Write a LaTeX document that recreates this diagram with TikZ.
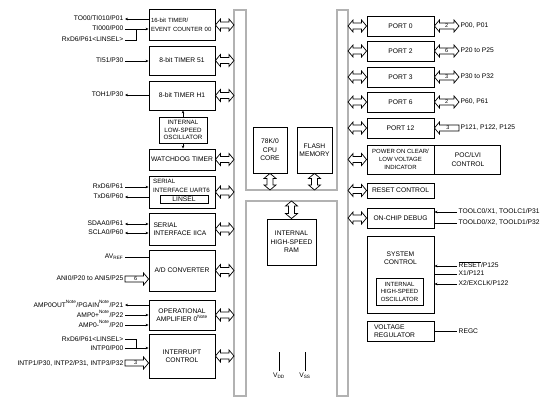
\documentclass[tikz,border=0pt]{standalone}
\usepackage{fontspec}
\setmainfont{Liberation Sans}
\usetikzlibrary{arrows.meta,calc}

% superscript note mark
\newcommand{\notesup}{\textsuperscript{Note}}
% hollow double bus arrow, #2 left of #3, optional width number
\newcommand{\hbusarrow}[3][]{%
  \draw[busarrow] let \p1=(#2), \p2=(#3) in
    (\x1,\y1) -- (\x1+5pt,\y1+6pt) -- (\x1+5pt,\y1+3pt) -- (\x2-5pt,\y1+3pt)
    -- (\x2-5pt,\y1+6pt) -- (\x2,\y1) -- (\x2-5pt,\y1-6pt) -- (\x2-5pt,\y1-3pt)
    -- (\x1+5pt,\y1-3pt) -- (\x1+5pt,\y1-6pt) -- cycle;
  \node[busnum] at ($(#2)!0.5!(#3)$) {#1};}
% hollow double bus arrow, #1 above #2
\newcommand{\vbusarrow}[2]{%
  \draw[busarrow] let \p1=(#1), \p2=(#2) in
    (\x1,\y1) -- (\x1+6pt,\y1-5pt) -- (\x1+3pt,\y1-5pt) -- (\x1+3pt,\y2+5pt)
    -- (\x1+6pt,\y2+5pt) -- (\x1,\y2) -- (\x1-6pt,\y2+5pt) -- (\x1-3pt,\y2+5pt)
    -- (\x1-3pt,\y1-5pt) -- (\x1-6pt,\y1-5pt) -- cycle;}
% hollow input arrow, head on the right at #2
\newcommand{\rinarrow}[3]{%
  \draw[busarrow] let \p1=(#1), \p2=(#2) in
    (\x1,\y1+3pt) -- (\x2-5pt,\y1+3pt) -- (\x2-5pt,\y1+6pt) -- (\x2,\y1)
    -- (\x2-5pt,\y1-6pt) -- (\x2-5pt,\y1-3pt) -- (\x1,\y1-3pt) -- cycle;
  \node[busnum] at ($(#1)!0.45!(#2)$) {#3};}
% hollow input arrow, head on the left at #1
\newcommand{\linarrow}[3]{%
  \draw[busarrow] let \p1=(#1), \p2=(#2) in
    (\x1,\y1) -- (\x1+5pt,\y1+6pt) -- (\x1+5pt,\y1+3pt) -- (\x2,\y1+3pt)
    -- (\x2,\y1-3pt) -- (\x1+5pt,\y1-3pt) -- (\x1+5pt,\y1-6pt) -- cycle;
  \node[busnum] at ($(#1)!0.55!(#2)$) {#3};}

\begin{document}
\begin{tikzpicture}[x=1pt, y=-1pt,
    font=\fontsize{6.7}{8.5}\selectfont,
    >={Stealth[length=3pt,width=2.6pt]},
    blk/.style={draw, line width=0.9pt, inner sep=1pt, align=center},
    pinlbl/.style={inner sep=1.5pt, text height=4.8pt, text depth=0.8pt},
    sig/.style={line width=0.7pt},
    busarrow/.style={draw, line width=0.7pt, fill=white},
    busnum/.style={font=\fontsize{5.5}{6}\selectfont, inner sep=0pt},
    busframe/.style={draw=gray!60, line width=1.2pt}]
  \useasboundingbox (0,0) rectangle (554,403);

  % internal bus
  \draw[busframe] (234,10) -- (246,10) -- (246,190) -- (337,190) -- (337,10)
    -- (348,10) -- (348,396) -- (337,396) -- (337,201) -- (246,201)
    -- (246,396) -- (234,396) -- cycle;
  \coordinate (busL) at (234,0);
  \coordinate (busR) at (348,0);
  \coordinate (midT) at (0,190);
  \coordinate (midB) at (0,201);

  % timers
  \node[blk, minimum width=66pt, minimum height=31pt, text width=62pt, align=left,
    font=\fontsize{6}{9.5}\selectfont] (tm00) at (182,25) {16-bit TIMER/\\EVENT COUNTER 00};
  \node[blk, minimum width=66pt, minimum height=29pt] (tm51) at (182,60.5) {8-bit TIMER 51};
  \node[blk, minimum width=66pt, minimum height=29pt] (tmh1) at (182,95.5) {8-bit TIMER H1};
  \node[blk, minimum width=48pt, minimum height=26pt, font=\fontsize{6.2}{7.5}\selectfont]
    (losc) at (183,130) {INTERNAL\\LOW-SPEED\\OSCILLATOR};
  \node[blk, minimum width=66pt, minimum height=21pt] (wdt) at (182,159.5) {WATCHDOG TIMER};
  % serial interfaces
  \node[blk, minimum width=66pt, minimum height=32pt] (uart) at (182,192) {};
  \node[anchor=north west, inner sep=0pt, align=left, font=\fontsize{6.2}{8.5}\selectfont]
    (uarttxt) at (153,179) {SERIAL\\INTERFACE UART6};
  \node[blk, line width=0.7pt, minimum width=48pt, minimum height=8pt, inner sep=0pt] (linsel) at (184,199) {LINSEL};
  \node[blk, minimum width=66pt, minimum height=32pt, text width=57pt, align=left] (iica) at (182,229) {SERIAL\\INTERFACE IICA};
  % analog and interrupts
  \node[blk, minimum width=66pt, minimum height=41pt] (adc) at (182,270.5) {A/D CONVERTER};
  \node[blk, minimum width=66pt, minimum height=30pt] (opamp) at (182,315) {OPERATIONAL\\AMPLIFIER 0\notesup};
  \node[blk, minimum width=66pt, minimum height=44pt] (intc) at (182,356) {INTERRUPT\\CONTROL};

  % left pins
  \node[pinlbl, anchor=east] (to00) at (125,19) {TO00/TI010/P01};
  \node[pinlbl, anchor=east] (ti000) at (125,29) {TI000/P00};
  \node[pinlbl, anchor=east] (rxdA) at (125,40) {RxD6/P61<LINSEL>};
  \node[pinlbl, anchor=east] (ti51) at (125,61) {TI51/P30};
  \node[pinlbl, anchor=east] (toh1) at (125,95) {TOH1/P30};
  \node[pinlbl, anchor=east] (rxd6) at (125,187) {RxD6/P61};
  \node[pinlbl, anchor=east] (txd6) at (125,197) {TxD6/P60};
  \node[pinlbl, anchor=east] (sdaa0) at (125,224) {SDAA0/P61};
  \node[pinlbl, anchor=east] (scla0) at (125,233) {SCLA0/P60};
  \node[pinlbl, anchor=east] (avref) at (125,257) {AV\textsubscript{REF}};
  \node[pinlbl, anchor=east] (ani) at (125,279) {ANI0/P20 to ANI5/P25};
  \node[pinlbl, anchor=east] (ampout) at (125,305) {AMP0OUT\notesup/PGAIN\notesup/P21};
  \node[pinlbl, anchor=east] (ampp) at (125,315) {AMP0+\notesup/P22};
  \node[pinlbl, anchor=east] (ampm) at (125,325) {AMP0-\notesup/P20};
  \node[pinlbl, anchor=east] (rxdB) at (125,339) {RxD6/P61<LINSEL>};
  \node[pinlbl, anchor=east] (intp0) at (125,348) {INTP0/P00};
  \node[pinlbl, anchor=east] (intp) at (125,363) {INTP1/P30, INTP2/P31, INTP3/P32};

  % left pin lines
  \draw[sig,<-] (to00.east) -- (to00.east -| tm00.west);
  \draw[sig,->] (ti000.east) -- (ti000.east -| tm00.west);
  \draw[sig] (rxdA.east) -| ($(ti000.east)!0.5!(ti000.east -| tm00.west)$);
  \draw[sig,->] (ti51.east) -- (ti51.east -| tm51.west);
  \draw[sig,<-] (toh1.east) -- (toh1.east -| tmh1.west);
  \draw[sig,->] (losc.north) -- (losc.north |- tmh1.south);
  \draw[sig,->] (losc.south) -- (losc.south |- wdt.north);
  \draw[sig,->] (rxd6.east) -- (rxd6.east -| uart.west);
  \draw[sig,<-] (txd6.east) -- (txd6.east -| uart.west);
  \draw[sig,<->] (sdaa0.east) -- (sdaa0.east -| iica.west);
  \draw[sig,<->] (scla0.east) -- (scla0.east -| iica.west);
  \draw[sig] (avref.east) -- (avref.east -| adc.west);
  \rinarrow{ani.east}{ani.east -| adc.west}{6}
  \draw[sig,<-] (ampout.east) -- (ampout.east -| opamp.west);
  \draw[sig,->] (ampp.east) -- (ampp.east -| opamp.west);
  \draw[sig,->] (ampm.east) -- (ampm.east -| opamp.west);
  \draw[sig] (rxdB.east) -| ($(intp0.east)!0.5!(intp0.east -| intc.west)$);
  \draw[sig,->] (intp0.east) -- (intp0.east -| intc.west);
  \rinarrow{intp.east}{intp.east -| intc.west}{3}

  % left bus arrows
  \hbusarrow{tm00.east}{tm00.east -| busL}
  \hbusarrow{tm51.east}{tm51.east -| busL}
  \hbusarrow{tmh1.east}{tmh1.east -| busL}
  \hbusarrow{wdt.east}{wdt.east -| busL}
  \hbusarrow{uart.east}{uart.east -| busL}
  \hbusarrow{iica.east}{iica.east -| busL}
  \hbusarrow{adc.east}{adc.east -| busL}
  \hbusarrow{opamp.east}{opamp.east -| busL}
  \hbusarrow{intc.east}{intc.east -| busL}

  % core, memories
  \node[blk, minimum width=34pt, minimum height=46pt] (cpu) at (270,150) {78K/0\\CPU\\CORE};
  \node[blk, minimum width=35pt, minimum height=46pt] (flash) at (314.5,150) {FLASH\\MEMORY};
  \node[blk, minimum width=49pt, minimum height=46pt] (ram) at (291.5,242) {INTERNAL\\HIGH-SPEED\\RAM};
  \vbusarrow{cpu.south}{cpu.south |- midT}
  \vbusarrow{flash.south}{flash.south |- midT}
  \vbusarrow{ram.north |- midB}{ram.north}

  % supply
  \coordinate (pwr) at (0,352);
  \node[pinlbl, anchor=north] (vdd) at (279,371) {V\textsubscript{DD}};
  \node[pinlbl, anchor=north] (vss) at (305,371) {V\textsubscript{SS}};
  \draw[sig] (vdd.north) -- (vdd.north |- pwr);
  \draw[sig] (vss.north) -- (vss.north |- pwr);

  % ports
  \node[blk, minimum width=67pt, minimum height=20pt] (port0) at (400.5,26) {PORT 0};
  \node[blk, minimum width=67pt, minimum height=20pt] (port2) at (400.5,51) {PORT 2};
  \node[blk, minimum width=67pt, minimum height=20pt] (port3) at (400.5,77) {PORT 3};
  \node[blk, minimum width=67pt, minimum height=20pt] (port6) at (400.5,102) {PORT 6};
  \node[blk, minimum width=67pt, minimum height=20pt] (port12) at (400.5,128) {PORT 12};
  \node[pinlbl, anchor=west] (p0) at (459,26) {P00, P01};
  \node[pinlbl, anchor=west] (p2) at (459,51) {P20 to P25};
  \node[pinlbl, anchor=west] (p3) at (459,77) {P30 to P32};
  \node[pinlbl, anchor=west] (p6) at (459,102) {P60, P61};
  \node[pinlbl, anchor=west] (p12) at (459,128) {P121, P122, P125};
  \hbusarrow[2]{port0.east}{p0.west}
  \hbusarrow[6]{port2.east}{p2.west}
  \hbusarrow[3]{port3.east}{p3.west}
  \hbusarrow[2]{port6.east}{p6.west}
  \linarrow{port12.east}{p12.west}{3}

  % power on clear, reset, debug
  \node[blk, minimum width=67pt, minimum height=29pt, font=\fontsize{6}{8.3}\selectfont]
    (poc) at (400.5,159.5) {POWER ON CLEAR/\\LOW VOLTAGE\\INDICATOR};
  \node[blk, minimum width=66pt, minimum height=29pt, anchor=west] (lvi) at (poc.east) {POC/LVI\\CONTROL};
  \node[blk, minimum width=67pt, minimum height=15pt] (rst) at (400.5,190.5) {RESET CONTROL};
  \node[blk, minimum width=67pt, minimum height=20pt] (ocd) at (400.5,218) {ON-CHIP DEBUG};
  \node[pinlbl, anchor=west] (toolc) at (457,212) {TOOLC0/X1, TOOLC1/P31};
  \node[pinlbl, anchor=west] (toold) at (457,223) {TOOLD0/X2, TOOLD1/P32};
  \draw[sig,->] (toolc.west) -- (toolc.west -| ocd.east);
  \draw[sig] (toold.west) -- (toold.west -| ocd.east);

  % system control
  \node[blk, minimum width=67pt, minimum height=77pt] (sysc) at (400.5,274.5) {};
  \node[align=center, inner sep=0pt] (systxt) at (400.5,258) {SYSTEM\\CONTROL};
  \node[blk, line width=0.7pt, minimum width=47pt, minimum height=27pt, font=\fontsize{6}{7.5}\selectfont]
    (hosc) at (399.5,291.5) {INTERNAL\\HIGH-SPEED\\OSCILLATOR};
  \node[pinlbl, anchor=west] (reset) at (457,266) {$\overline{\mbox{RESET}}$/P125};
  \node[pinlbl, anchor=west] (x1) at (457,274) {X1/P121};
  \node[pinlbl, anchor=west] (x2) at (457,284) {X2/EXCLK/P122};
  \draw[sig,->] (reset.west) -- (reset.west -| sysc.east);
  \draw[sig] (x1.west) -- (x1.west -| sysc.east);
  \draw[sig,->] (x2.west) -- (x2.west -| sysc.east);

  % voltage regulator
  \node[blk, minimum width=67pt, minimum height=20pt, text width=53pt, align=left] (vreg) at (400.5,331) {VOLTAGE\\REGULATOR};
  \node[pinlbl, anchor=west] (regc) at (457,331) {REGC};
  \draw[sig] (vreg.east) -- (regc.west);

  % right bus arrows
  \hbusarrow{port0.west -| busR}{port0.west}
  \hbusarrow{port2.west -| busR}{port2.west}
  \hbusarrow{port3.west -| busR}{port3.west}
  \hbusarrow{port6.west -| busR}{port6.west}
  \hbusarrow{port12.west -| busR}{port12.west}
  \hbusarrow{poc.west -| busR}{poc.west}
  \hbusarrow{rst.west -| busR}{rst.west}
  \hbusarrow{ocd.west -| busR}{ocd.west}
\end{tikzpicture}
\end{document}
